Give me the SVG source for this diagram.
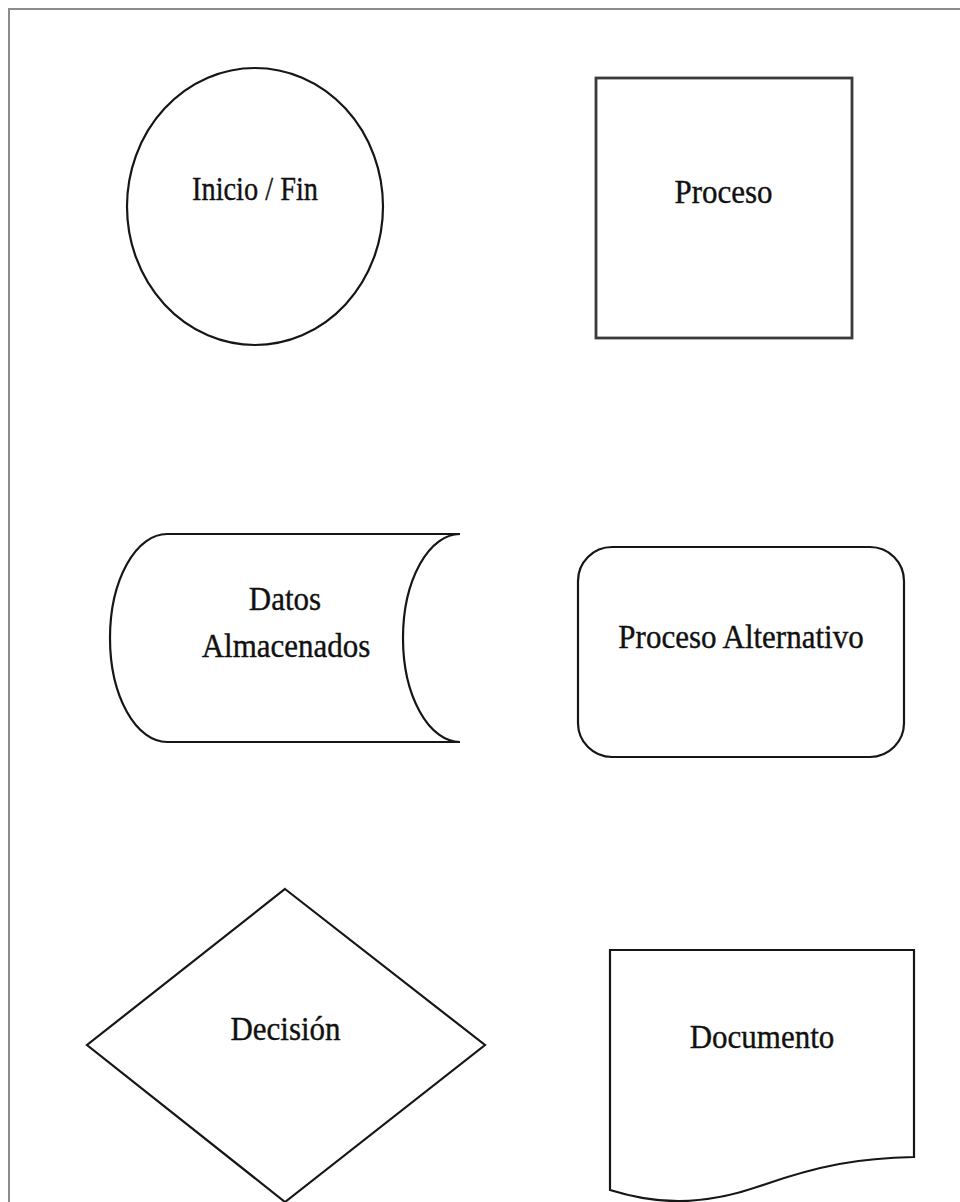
<svg xmlns="http://www.w3.org/2000/svg" width="960" height="1202" viewBox="0 0 960 1202">
  <style>
    .shape { fill: #ffffff; stroke: #161616; stroke-width: 2.2; }
    .label { font-family: "Liberation Serif", "Times New Roman", serif; font-size: 31px; fill: #111111; stroke: #111111; stroke-width: 0.35; text-anchor: middle; }
  </style>
  <rect x="0" y="0" width="960" height="1202" fill="#ffffff"/>
  <!-- page frame, runs off the right and bottom edges -->
  <rect x="9" y="9" width="1000" height="1300" fill="none" stroke="#8c8c8c" stroke-width="2"/>

  <g id="connectors"></g>

  <g id="inicio-fin">
    <ellipse class="shape" cx="255" cy="206.5" rx="128" ry="138.5"/>
    <text class="label" transform="translate(255,200) scale(1,1.12)" textLength="126" lengthAdjust="spacingAndGlyphs">Inicio / Fin</text>
  </g>

  <g id="proceso">
    <rect class="shape" x="596" y="78" width="256" height="260" style="stroke:#3a3a3a;stroke-width:2.8"/>
    <text class="label" transform="translate(723.5,203) scale(1,1.12)">Proceso</text>
  </g>

  <g id="datos-almacenados">
    <path d="M167,534 L460,534 A57,104 0 0 0 460,742 L167,742 A57,104 0 0 1 167,534 Z" fill="#ffffff"/>
    <path d="M167,534 L460,534 M167,742 L460,742 M167,534 A57,104 0 0 0 167,742 M460,534 A57,104 0 0 0 460,742" fill="none" stroke="#161616" stroke-width="2.2"/>
    <text class="label" transform="translate(285,610) scale(1,1.12)">Datos</text>
    <text class="label" transform="translate(286,657) scale(1,1.12)">Almacenados</text>
  </g>

  <g id="proceso-alternativo">
    <rect class="shape" x="578" y="547" width="326" height="210" rx="34" ry="34"/>
    <text class="label" transform="translate(741,648) scale(1,1.12)">Proceso Alternativo</text>
  </g>

  <g id="decision">
    <polygon class="shape" points="285,889 485,1045 285,1202 87,1045"/>
    <text class="label" transform="translate(285.5,1040) scale(1,1.12)">Decisión</text>
  </g>

  <g id="documento">
    <path class="shape" d="M610,950 L914,950 L914,1157 C860,1158 820,1165 760,1186 C700,1207 655,1204 610,1190 Z"/>
    <text class="label" transform="translate(762,1048) scale(1,1.12)">Documento</text>
  </g>
</svg>
